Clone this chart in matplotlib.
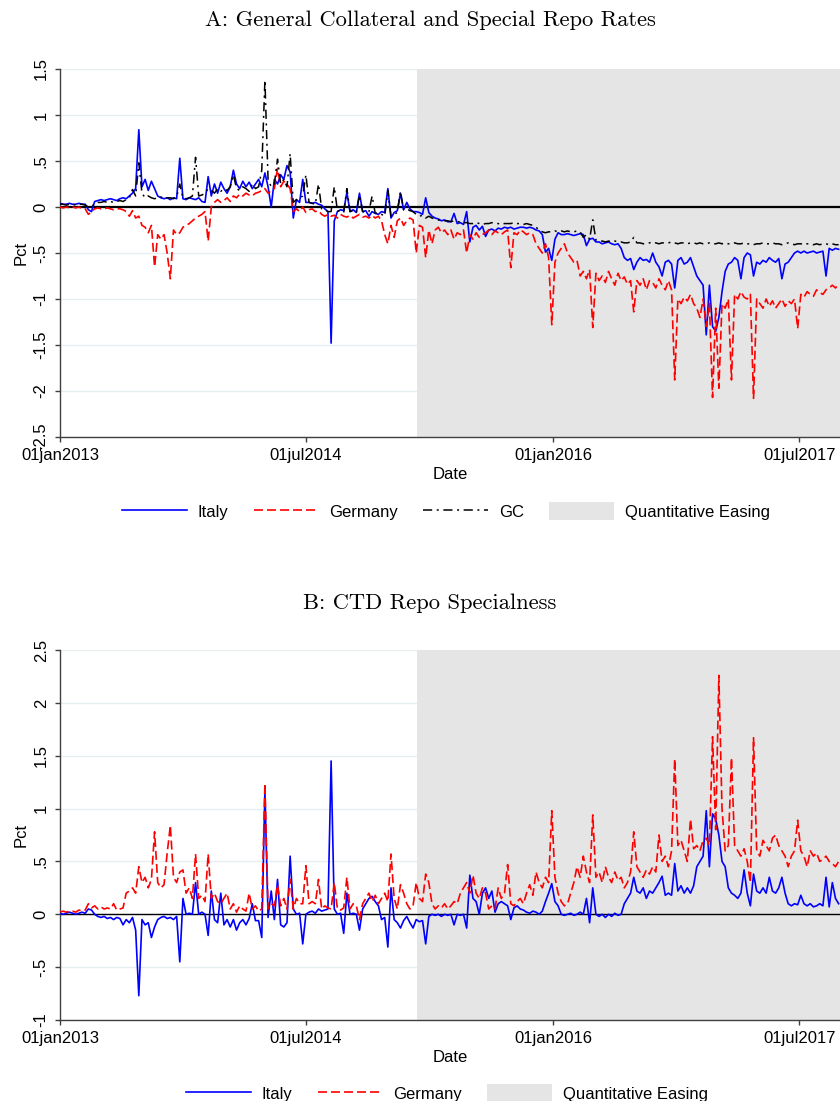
import numpy as np
import pandas as pd
import matplotlib
matplotlib.use('Agg')
import matplotlib.pyplot as plt
from matplotlib.patches import Patch

# ---------------- data (weekly readings from the picture) ----------------
start = '2013-01-01'
qe_start = '2015-03-05'
x_end = '2017-09-29'

ita_a = [
    0.04, 0.03, 0.03, 0.04, 0.03, 0.03, 0.04, 0.03, 0.03, -0.03,
    -0.05, 0.06, 0.07, 0.08, 0.07, 0.08, 0.09, 0.08, 0.07, 0.09,
    0.10, 0.09, 0.12, 0.15, 0.20, 0.84, 0.22, 0.30, 0.18, 0.28,
    0.20, 0.12, 0.10, 0.09, 0.10, 0.08, 0.10, 0.09, 0.53, 0.09,
    0.08, 0.10, 0.09, 0.08, 0.10, 0.06, 0.05, 0.33, 0.12, 0.25,
    0.15, 0.27, 0.20, 0.15, 0.22, 0.40, 0.25, 0.20, 0.28, 0.22,
    0.27, 0.20, 0.25, 0.30, 0.22, 0.37, 0.22, 0.00, 0.30, 0.25,
    0.35, 0.30, 0.45, 0.38, -0.12, 0.08, 0.05, 0.30, 0.05, 0.05,
    0.04, 0.05, 0.03, 0.02, -0.02, -0.05, -1.48, -0.15, -0.05, -0.03,
    -0.04, 0.16, -0.05, -0.03, -0.06, 0.15, -0.05, -0.04, -0.10, -0.05,
    -0.07, -0.08, -0.05, -0.06, 0.20, -0.12, -0.06, -0.04, 0.15, -0.03,
    0.05, -0.02, -0.05, -0.05, -0.06, -0.08, 0.10, -0.06, -0.10, -0.12,
    -0.13, -0.15, -0.14, -0.16, -0.16, -0.07, -0.18, -0.17, -0.19, -0.05,
    -0.38, -0.22, -0.20, -0.25, -0.21, -0.32, -0.25, -0.24, -0.26, -0.23,
    -0.24, -0.22, -0.23, -0.22, -0.24, -0.23, -0.22, -0.22, -0.23, -0.22,
    -0.23, -0.25, -0.26, -0.30, -0.49, -0.45, -0.58, -0.35, -0.28, -0.30,
    -0.30, -0.29, -0.30, -0.31, -0.30, -0.29, -0.30, -0.42, -0.35, -0.34,
    -0.38, -0.38, -0.40, -0.39, -0.38, -0.40, -0.41, -0.40, -0.45, -0.55,
    -0.58, -0.56, -0.68, -0.60, -0.55, -0.58, -0.57, -0.60, -0.50, -0.60,
    -0.65, -0.75, -0.60, -0.58, -0.62, -0.88, -0.58, -0.55, -0.62, -0.60,
    -0.55, -0.65, -0.75, -0.80, -0.85, -1.39, -0.85, -1.30, -1.35, -1.20,
    -0.92, -0.70, -0.62, -0.60, -0.55, -0.58, -0.78, -0.55, -0.50, -0.52,
    -0.75, -0.60, -0.62, -0.58, -0.60, -0.55, -0.58, -0.60, -0.56, -0.78,
    -0.62, -0.60, -0.55, -0.50, -0.48, -0.50, -0.48, -0.50, -0.49, -0.48,
    -0.50, -0.49, -0.48, -0.75, -0.45, -0.47, -0.45, -0.46,
]

deu_a = [
    0.00, -0.01, 0.00, -0.01, 0.00, -0.01, 0.00, -0.02, -0.02, -0.08,
    -0.05, -0.02, -0.01, -0.02, -0.02, -0.01, -0.02, -0.03, -0.02, -0.02,
    -0.03, -0.05, -0.10, -0.04, -0.12, -0.10, -0.20, -0.22, -0.28, -0.20,
    -0.65, -0.30, -0.35, -0.30, -0.50, -0.78, -0.25, -0.30, -0.28, -0.22,
    -0.20, -0.18, -0.15, -0.12, -0.10, -0.08, -0.05, -0.37, 0.00, 0.05,
    0.08, 0.05, 0.07, 0.10, 0.06, 0.12, 0.10, 0.14, 0.12, 0.15,
    0.13, 0.12, 0.15, 0.16, 0.18, 0.20, 0.15, 0.18, 0.20, 0.42,
    0.22, 0.28, 0.25, 0.20, -0.05, -0.02, -0.05, 0.00, -0.06, -0.03,
    -0.02, -0.05, -0.04, -0.08, -0.10, -0.08, -0.10, -0.09, -0.12, -0.08,
    -0.10, -0.11, -0.09, -0.12, -0.10, -0.08, -0.11, -0.10, -0.12, -0.09,
    -0.12, -0.10, -0.15, -0.30, -0.40, -0.20, -0.33, -0.15, -0.12, -0.20,
    -0.15, -0.12, -0.14, -0.50, -0.20, -0.22, -0.55, -0.25, -0.40, -0.25,
    -0.22, -0.28, -0.25, -0.30, -0.25, -0.35, -0.28, -0.30, -0.25, -0.50,
    -0.30, -0.35, -0.28, -0.33, -0.30, -0.28, -0.25, -0.30, -0.26, -0.28,
    -0.30, -0.27, -0.25, -0.66, -0.28, -0.30, -0.25, -0.27, -0.30, -0.28,
    -0.30, -0.40, -0.45, -0.50, -0.40, -0.55, -1.28, -0.60, -0.50, -0.45,
    -0.40, -0.50, -0.55, -0.60, -0.58, -0.75, -0.70, -0.78, -0.68, -1.31,
    -0.72, -0.80, -0.75, -0.82, -0.70, -0.78, -0.85, -0.72, -0.80, -0.76,
    -0.84, -0.80, -1.14, -0.80, -0.85, -0.78, -0.90, -0.80, -0.82, -0.88,
    -0.78, -0.85, -0.90, -0.80, -0.90, -1.88, -1.00, -1.05, -0.98, -1.02,
    -0.95, -1.05, -1.10, -1.20, -1.00, -1.30, -1.05, -2.07, -1.10, -1.97,
    -1.05, -1.10, -1.00, -1.88, -0.95, -1.00, -0.92, -0.98, -1.00, -0.95,
    -2.08, -1.00, -1.05, -1.10, -1.00, -1.08, -1.02, -1.10, -1.05, -1.00,
    -1.08, -1.02, -1.05, -1.00, -1.32, -0.95, -0.98, -0.92, -0.95, -0.97,
    -0.90, -0.93, -0.95, -0.90, -0.88, -0.85, -0.88, -0.84,
]

gc_a = [
    0.03, 0.03, 0.02, 0.03, 0.03, 0.02, 0.03, 0.03, 0.02, 0.00,
    0.00, 0.04, 0.05, 0.05, 0.06, 0.05, 0.06, 0.05, 0.06, 0.07,
    0.06, 0.08, 0.10, 0.19, 0.12, 0.48, 0.15, 0.10, 0.12, 0.10,
    0.09, 0.10, 0.11, 0.09, 0.10, 0.10, 0.09, 0.11, 0.25, 0.10,
    0.09, 0.10, 0.12, 0.54, 0.12, 0.13, 0.15, 0.20, 0.18, 0.15,
    0.20, 0.17, 0.20, 0.18, 0.22, 0.35, 0.20, 0.18, 0.22, 0.20,
    0.17, 0.25, 0.20, 0.22, 0.40, 1.38, 0.30, 0.22, 0.25, 0.52,
    0.25, 0.30, 0.22, 0.58, 0.05, 0.08, 0.10, 0.12, 0.35, 0.05,
    0.04, 0.03, 0.25, -0.02, -0.03, -0.05, -0.05, 0.22, -0.04, -0.05,
    -0.06, 0.20, -0.05, -0.04, -0.06, 0.13, -0.05, -0.06, -0.05, 0.12,
    -0.07, -0.06, -0.08, -0.10, 0.18, -0.10, -0.08, -0.06, 0.17, -0.03,
    -0.02, -0.04, -0.05, -0.08, -0.10, -0.09, -0.12, -0.10, -0.12, -0.13,
    -0.14, -0.15, -0.15, -0.15, -0.16, -0.15, -0.16, -0.16, -0.17, -0.17,
    -0.18, -0.18, -0.17, -0.18, -0.19, -0.18, -0.18, -0.17, -0.18, -0.18,
    -0.19, -0.18, -0.18, -0.18, -0.17, -0.18, -0.18, -0.19, -0.18, -0.19,
    -0.20, -0.22, -0.25, -0.27, -0.28, -0.27, -0.27, -0.26, -0.27, -0.26,
    -0.27, -0.26, -0.27, -0.27, -0.26, -0.27, -0.33, -0.30, -0.35, -0.14,
    -0.36, -0.37, -0.37, -0.38, -0.37, -0.38, -0.37, -0.38, -0.38, -0.39,
    -0.39, -0.38, -0.33, -0.39, -0.39, -0.40, -0.39, -0.39, -0.38, -0.39,
    -0.40, -0.39, -0.39, -0.39, -0.38, -0.39, -0.40, -0.39, -0.39, -0.40,
    -0.39, -0.39, -0.40, -0.39, -0.40, -0.40, -0.39, -0.40, -0.40, -0.39,
    -0.40, -0.39, -0.40, -0.40, -0.39, -0.40, -0.40, -0.39, -0.40, -0.40,
    -0.41, -0.40, -0.40, -0.39, -0.40, -0.40, -0.39, -0.40, -0.40, -0.41,
    -0.40, -0.39, -0.40, -0.41, -0.40, -0.40, -0.41, -0.40, -0.40, -0.41,
    -0.40, -0.41, -0.40, -0.40, -0.41, -0.40, -0.41, -0.41,
]

ita_b = [
    0.01, 0.00, 0.01, 0.02, 0.01, 0.00, 0.01, 0.02, 0.01, 0.05,
    0.04, 0.00, -0.02, -0.03, -0.02, -0.04, -0.03, -0.05, -0.03, -0.04,
    -0.10, -0.05, -0.08, -0.03, -0.15, -0.77, -0.05, -0.10, -0.08, -0.22,
    -0.12, -0.05, -0.03, -0.02, -0.04, -0.03, -0.05, -0.02, -0.45, 0.15,
    0.00, 0.01, 0.00, 0.30, 0.00, 0.02, 0.00, -0.20, 0.22, -0.05,
    -0.08, 0.20, -0.10, -0.05, -0.12, -0.05, -0.15, -0.08, -0.05, -0.10,
    -0.04, 0.10, -0.06, -0.06, -0.22, 1.17, -0.03, 0.22, -0.05, 0.33,
    -0.10, -0.12, -0.08, 0.55, 0.05, 0.00, 0.01, -0.28, 0.00, 0.02,
    0.03, 0.01, 0.05, 0.03, 0.04, 0.05, 1.45, 0.05, 0.00, 0.01,
    -0.18, 0.20, 0.00, 0.01, 0.00, -0.15, 0.05, 0.10, 0.15, 0.17,
    0.12, 0.08, -0.05, -0.03, -0.31, 0.25, -0.05, -0.08, -0.13, -0.06,
    -0.02, -0.08, -0.13, -0.05, -0.07, -0.06, -0.28, -0.02, 0.00, -0.01,
    0.00, -0.02, 0.00, -0.01, 0.00, -0.10, 0.00, -0.01, 0.00, -0.13,
    0.37, 0.15, 0.12, 0.00, 0.20, 0.25, 0.15, 0.22, 0.02, 0.10,
    0.12, 0.10, 0.08, -0.05, 0.06, 0.08, 0.05, 0.04, 0.02, 0.01,
    0.03, 0.02, 0.00, 0.03, 0.12, 0.20, 0.29, 0.12, 0.08, 0.00,
    -0.01, 0.00, 0.01, -0.01, 0.00, 0.02, 0.00, 0.15, -0.08, 0.25,
    0.00, -0.02, 0.00, -0.03, 0.00, -0.02, 0.01, -0.01, 0.00, 0.10,
    0.15, 0.20, 0.35, 0.22, 0.20, 0.25, 0.15, 0.22, 0.20, 0.25,
    0.30, 0.36, 0.18, 0.20, 0.18, 0.48, 0.22, 0.27, 0.20, 0.25,
    0.20, 0.27, 0.45, 0.50, 0.55, 0.98, 0.45, 0.95, 0.90, 0.75,
    0.50, 0.45, 0.25, 0.20, 0.18, 0.15, 0.20, 0.42, 0.20, 0.08,
    0.38, 0.22, 0.20, 0.25, 0.20, 0.35, 0.22, 0.20, 0.25, 0.35,
    0.20, 0.10, 0.08, 0.10, 0.09, 0.18, 0.10, 0.08, 0.10, 0.07,
    0.08, 0.10, 0.08, 0.35, 0.07, 0.30, 0.15, 0.10,
]

deu_b = [
    0.02, 0.03, 0.02, 0.03, 0.03, 0.02, 0.04, 0.03, 0.04, 0.10,
    0.06, 0.08, 0.05, 0.07, 0.05, 0.06, 0.05, 0.10, 0.04, 0.05,
    0.06, 0.20, 0.22, 0.25, 0.20, 0.45, 0.30, 0.35, 0.25, 0.33,
    0.78, 0.30, 0.25, 0.28, 0.58, 0.84, 0.35, 0.30, 0.40, 0.42,
    0.20, 0.25, 0.15, 0.57, 0.15, 0.18, 0.12, 0.57, 0.15, 0.20,
    0.12, 0.10, 0.15, 0.20, 0.05, 0.10, 0.02, 0.08, 0.05, 0.03,
    0.20, 0.05, 0.08, 0.03, 0.05, 1.24, 0.05, 0.10, 0.08, 0.28,
    0.08, 0.15, 0.05, 0.33, 0.05, 0.15, 0.10, 0.10, 0.46, 0.10,
    0.12, 0.10, 0.33, 0.05, 0.08, 0.06, 0.05, 0.30, 0.05, 0.04,
    0.06, 0.35, 0.05, 0.10, 0.08, -0.05, 0.10, 0.15, 0.20, 0.12,
    0.18, 0.10, 0.15, 0.20, 0.12, 0.57, 0.15, 0.05, 0.28, 0.20,
    0.10, 0.05, 0.08, 0.30, 0.15, 0.12, 0.38, 0.30, 0.10, 0.05,
    0.08, 0.06, 0.10, 0.05, 0.08, 0.12, 0.10, 0.20, 0.25, 0.30,
    0.20, 0.37, 0.20, 0.15, 0.25, 0.20, 0.05, 0.08, 0.05, 0.25,
    0.15, 0.20, 0.47, 0.10, 0.08, 0.12, 0.15, 0.10, 0.20, 0.28,
    0.18, 0.40, 0.30, 0.25, 0.35, 0.30, 0.98, 0.35, 0.20, 0.12,
    0.08, 0.10, 0.20, 0.30, 0.45, 0.35, 0.55, 0.40, 0.30, 0.94,
    0.35, 0.40, 0.30, 0.45, 0.35, 0.30, 0.40, 0.32, 0.35, 0.25,
    0.30, 0.40, 0.78, 0.45, 0.40, 0.35, 0.42, 0.38, 0.45, 0.40,
    0.75, 0.50, 0.55, 0.45, 0.60, 1.47, 0.65, 0.70, 0.60, 0.50,
    0.90, 0.62, 0.65, 0.60, 0.70, 0.72, 0.65, 1.68, 0.80, 2.26,
    1.00, 0.60, 0.65, 1.48, 0.65, 0.60, 0.55, 0.62, 0.50, 0.30,
    1.67, 0.60, 0.55, 0.70, 0.65, 0.60, 0.72, 0.75, 0.65, 0.60,
    0.55, 0.45, 0.55, 0.60, 0.89, 0.60, 0.55, 0.45, 0.60, 0.55,
    0.58, 0.50, 0.52, 0.55, 0.50, 0.48, 0.45, 0.50,
]

xtick_dates = ['2013-01-01', '2014-07-01', '2016-01-01', '2017-07-01']
xtick_labels = ['01jan2013', '01jul2014', '01jan2016', '01jul2017']
yticks_a = [1.5, 1, 0.5, 0, -0.5, -1, -1.5, -2, -2.5]
ylabels_a = ['1.5', '1', '.5', '0', '-.5', '-1', '-1.5', '-2', '-2.5']
yticks_b = [2.5, 2, 1.5, 1, 0.5, 0, -0.5, -1]
ylabels_b = ['2.5', '2', '1.5', '1', '.5', '0', '-.5', '-1']

title_a = 'A: General Collateral and Special Repo Rates'
title_b = 'B: CTD Repo Specialness'
labels_a = ['Italy', 'Germany', 'GC', 'Quantitative Easing']
labels_b = ['Italy', 'Germany', 'Quantitative Easing']

# ---------------- styling ----------------
plt.rcParams['font.family'] = ['Liberation Sans', 'DejaVu Sans']
W, H = 840, 1101
fig = plt.figure(figsize=(W / 100, H / 100), dpi=100)
fig.patch.set_facecolor('white')

def rect(l, t, r, b):
    return [l / W, 1 - b / H, (r - l) / W, (b - t) / H]

BLUE = '#0000ff'
RED = '#ff0000'
SHADE = '#e5e5e5'
GRID = '#e6eef0'
AXC = '#404040'
FS = 12

def dates_for(vals):
    return pd.date_range(start, periods=len(vals), freq='7D').to_pydatetime()

def style(ax, yticks, ylabels, ylim, zero_lw):
    ax.set_xlim(pd.Timestamp(start), pd.Timestamp(x_end))
    ax.set_ylim(*ylim)
    ax.axvspan(pd.Timestamp(qe_start), pd.Timestamp(x_end), color=SHADE, lw=0, zorder=1)
    ax.axhline(0, color='black', lw=zero_lw, zorder=1.5)
    ax.set_axisbelow(True)
    ax.yaxis.grid(True, color=GRID, lw=1.0)
    ax.xaxis.grid(False)
    for s in ['top', 'right']:
        ax.spines[s].set_visible(False)
    for s in ['left', 'bottom']:
        ax.spines[s].set_color(AXC)
        ax.spines[s].set_linewidth(1.0)
    ax.set_xticks([pd.Timestamp(d) for d in xtick_dates])
    ax.set_xticklabels(xtick_labels, fontsize=FS)
    ax.set_yticks(yticks)
    ax.set_yticklabels(ylabels, fontsize=FS, rotation=90, va='center')
    ax.tick_params(axis='both', direction='out', length=3.6, width=1.0, color=AXC, pad=4.5)
    ax.set_xlabel('Date', fontsize=FS, labelpad=3)
    ax.set_ylabel('Pct', fontsize=FS, labelpad=4)
    ax.set_facecolor('white')

# Panel A
axA = fig.add_axes(rect(60, 69, 840, 437))
style(axA, yticks_a, ylabels_a, (-2.5, 1.5), 1.6)
la1, = axA.plot(dates_for(ita_a), ita_a, color=BLUE, lw=1.2, zorder=3)
la2, = axA.plot(dates_for(deu_a), deu_a, color=RED, lw=1.2, ls=(0, (5.4, 2.4)), zorder=3)
la3, = axA.plot(dates_for(gc_a), gc_a, color='black', lw=1.1, ls=(0, (6, 3, 1.3, 3)), zorder=3)

# Panel B
axB = fig.add_axes(rect(60, 650, 840, 1020))
style(axB, yticks_b, ylabels_b, (-1, 2.5), 1.0)
lb1, = axB.plot(dates_for(ita_b), ita_b, color=BLUE, lw=1.2, zorder=3)
lb2, = axB.plot(dates_for(deu_b), deu_b, color=RED, lw=1.2, ls=(0, (5.4, 2.4)), zorder=3)

# titles
fig.text(430 / W, 1 - 20 / H, title_a, ha='center', va='center', family='cmr10', fontsize=16.2)
fig.text(430 / W, 1 - 603 / H, title_b, ha='center', va='center', family='cmr10', fontsize=16.2)

# legends
leg_kw = dict(loc='center', frameon=False, fontsize=FS, handlelength=3.9,
              handletextpad=0.65, columnspacing=1.5, handleheight=1.2)
qe_patch = Patch(facecolor=SHADE, edgecolor='none')
fig.legend([la1, la2, la3, qe_patch], labels_a, ncol=4,
           bbox_to_anchor=(446 / W, 1 - 511 / H), **leg_kw)
fig.legend([lb1, lb2, qe_patch], labels_b, ncol=3,
           bbox_to_anchor=(447 / W, 1 - 1093 / H), **leg_kw)

fig.savefig('out.png', dpi=100, facecolor='white')
